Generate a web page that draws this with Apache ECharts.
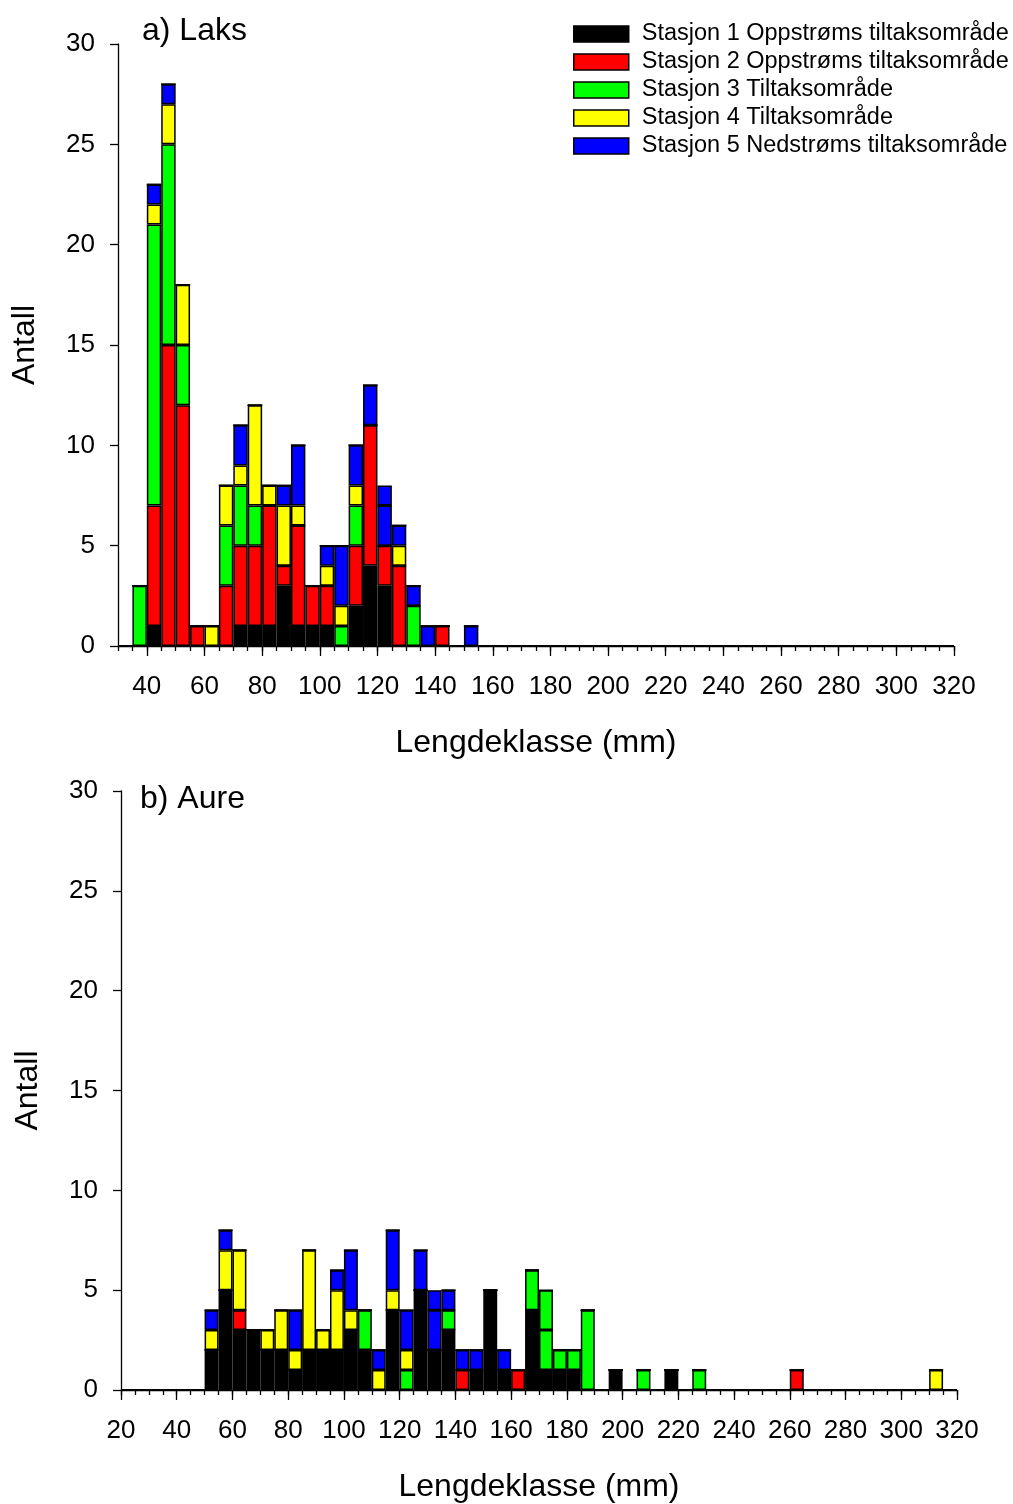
<!DOCTYPE html>
<html lang="no">
<head>
<meta charset="UTF-8">
<title>Lengdefordeling laks og aure</title>
<script src="https://cdn.jsdelivr.net/npm/echarts@6/dist/echarts.min.js"></script>
<style>
  html, body { margin: 0; padding: 0; background: #fff; }
  #main { width: 1013px; height: 1504px; }
</style>
</head>
<body>
<div id="main"></div>
<script type="text/javascript">
// stasjoner i forklaringen
var stasjoner = [
  'Stasjon 1 Oppstrøms tiltaksområde',
  'Stasjon 2 Oppstrøms tiltaksområde',
  'Stasjon 3 Tiltaksområde',
  'Stasjon 4 Tiltaksområde',
  'Stasjon 5 Nedstrøms tiltaksområde'
];
var farger = ['#000000', '#ff0000', '#00ff00', '#ffff00', '#0000ff'];

// a) Laks - 5 mm klasser, første klasse starter på 35 mm
var laksStart = 35;
var laksSt1 = [0, 1, 0, 0, 0, 0, 0, 1, 1, 1, 3, 1, 1, 1, 0, 2, 4, 3, 0, 0, 0, 0, 0, 0];
var laksSt2 = [0, 6, 15, 12, 1, 0, 3, 4, 4, 6, 1, 5, 2, 2, 0, 3, 7, 2, 4, 0, 0, 1, 0, 0];
var laksSt3 = [3, 14, 10, 3, 0, 0, 3, 3, 2, 0, 0, 0, 0, 0, 1, 2, 0, 0, 0, 2, 0, 0, 0, 0];
var laksSt4 = [0, 1, 2, 3, 0, 1, 2, 1, 5, 1, 3, 1, 0, 1, 1, 1, 0, 0, 1, 0, 0, 0, 0, 0];
var laksSt5 = [0, 1, 1, 0, 0, 0, 0, 2, 0, 0, 1, 3, 0, 1, 3, 2, 2, 2, 1, 1, 1, 0, 0, 1];
// ekstra felt med samme farge (eget felt i figuren)
var laksSt3b = [0, 0, 0, 0, 0, 0, 0, 0, 0, 0, 0, 0, 0, 0, 0, 0, 0, 0, 0, 0, 0, 0, 0, 0];
var laksSt5b = [0, 0, 0, 0, 0, 0, 0, 0, 0, 0, 0, 0, 0, 0, 0, 0, 0, 1, 0, 0, 0, 0, 0, 0];

// b) Aure - 5 mm klasser, første klasse starter på 50 mm
var aureStart = 50;
var aureSt1 = [2, 5, 3, 3, 2, 2, 1, 2, 2, 2,  3, 2, 0, 4, 0, 5, 2, 3, 0, 1,
               5, 1, 0, 4, 1, 1, 1, 0, 0, 1,  0, 0, 0, 1, 0, 0, 0, 0, 0, 0,
               0, 0, 0, 0, 0, 0, 0, 0, 0, 0,  0, 0, 0];
var aureSt2 = [0, 0, 1, 0, 0, 0, 0, 0, 0, 0,  0, 0, 0, 0, 0, 0, 0, 0, 1, 0,
               0, 0, 1, 0, 0, 0, 0, 0, 0, 0,  0, 0, 0, 0, 0, 0, 0, 0, 0, 0,
               0, 0, 1, 0, 0, 0, 0, 0, 0, 0,  0, 0, 0];
var aureSt3 = [0, 0, 0, 0, 0, 0, 0, 0, 0, 0,  0, 2, 0, 0, 1, 0, 0, 1, 0, 0,
               0, 0, 0, 2, 2, 1, 1, 4, 0, 0,  0, 1, 0, 0, 0, 1, 0, 0, 0, 0,
               0, 0, 0, 0, 0, 0, 0, 0, 0, 0,  0, 0, 0];
var aureSt4 = [1, 2, 3, 0, 1, 2, 1, 5, 1, 3,  1, 0, 1, 1, 1, 0, 0, 0, 0, 0,
               0, 0, 0, 0, 0, 0, 0, 0, 0, 0,  0, 0, 0, 0, 0, 0, 0, 0, 0, 0,
               0, 0, 0, 0, 0, 0, 0, 0, 0, 0,  0, 0, 1];
var aureSt5 = [1, 1, 0, 0, 0, 0, 2, 0, 0, 1,  3, 0, 1, 3, 2, 2, 2, 1, 1, 1,
               0, 1, 0, 0, 0, 0, 0, 0, 0, 0,  0, 0, 0, 0, 0, 0, 0, 0, 0, 0,
               0, 0, 0, 0, 0, 0, 0, 0, 0, 0,  0, 0, 0];
var aureSt3b = [0, 0, 0, 0, 0, 0, 0, 0, 0, 0,  0, 0, 0, 0, 0, 0, 0, 0, 0, 0,
                0, 0, 0, 0, 2, 0, 0, 0, 0, 0,  0, 0, 0, 0, 0, 0, 0, 0, 0, 0,
                0, 0, 0, 0, 0, 0, 0, 0, 0, 0,  0, 0, 0];
var aureSt5b = [0, 0, 0, 0, 0, 0, 0, 0, 0, 0,  0, 0, 0, 0, 0, 0, 1, 0, 0, 0,
                0, 0, 0, 0, 0, 0, 0, 0, 0, 0,  0, 0, 0, 0, 0, 0, 0, 0, 0, 0,
                0, 0, 0, 0, 0, 0, 0, 0, 0, 0,  0, 0, 0];

// akseetiketter
var laksXLabels = [40, 60, 80, 100, 120, 140, 160, 180, 200, 220, 240, 260, 280, 300, 320];
var aureXLabels = [20, 40, 60, 80, 100, 120, 140, 160, 180, 200, 220, 240, 260, 280, 300, 320];
var klasseBredde = 5;

var font = 'Liberation Sans, Arial, sans-serif';

// grid i piksler
var gridA = { left: 118, top: 44, width: 836, height: 602 };
var gridB = { left: 121, top: 791, width: 836, height: 601 };
var xRangeA = [30, 320];
var xRangeB = [20, 320];

function steps(from, to, step) {
    var arr = [];
    for (var v = from; v <= to; v += step) arr.push(v);
    return arr;
}

// klasser (kategorier) over hele aksen
function klasser(range) {
    return steps(range[0], range[1] - klasseBredde, klasseBredde).map(String);
}

// fyll ut dataserien slik at den dekker alle klassene på aksen
function fyllUt(range, start, values) {
    var n = (range[1] - range[0]) / klasseBredde;
    var off = (start - range[0]) / klasseBredde;
    var out = [];
    for (var i = 0; i < n; i++) {
        var v = values[i - off];
        out.push(v === undefined ? 0 : v);
    }
    return out;
}

function makeSeries(gridIdx, range, start, lists) {
    return lists.map(function (item) {
        return {
            name: item.name,
            type: 'bar',
            xAxisIndex: gridIdx * 3,
            yAxisIndex: gridIdx,
            stack: 'st' + gridIdx,
            barWidth: '100%',
            data: fyllUt(range, start, item.data),
            itemStyle: { color: item.color, borderColor: '#000', borderWidth: 1.5 }
        };
    });
}

function xAxes(gridIdx, range, labels) {
    return [{
        // kategoriakse for stolpene (skjult)
        gridIndex: gridIdx, type: 'category', data: klasser(range),
        boundaryGap: true,
        axisLine: { show: false }, axisTick: { show: false }, axisLabel: { show: false },
        splitLine: { show: false }
    }, {
        gridIndex: gridIdx, type: 'value', position: 'bottom', min: range[0], max: range[1],
        axisLine: { show: true, lineStyle: { color: '#000', width: 1.3 } },
        axisTick: { show: true, customValues: steps(range[0], range[1], 5), length: 5, lineStyle: { color: '#000', width: 1.3 } },
        axisLabel: { customValues: labels, color: '#000', fontSize: 26, fontFamily: font, margin: 28 },
        splitLine: { show: false },
        name: 'Lengdeklasse (mm)', nameLocation: 'middle', nameGap: 81,
        nameTextStyle: { fontSize: 32, color: '#000', fontFamily: font }
    }, {
        gridIndex: gridIdx, type: 'value', position: 'bottom', min: range[0], max: range[1],
        axisLine: { show: false },
        axisTick: { show: true, customValues: labels, length: 10, lineStyle: { color: '#000', width: 1.3 } },
        axisLabel: { show: false },
        splitLine: { show: false }
    }];
}

function yAxis(gridIdx) {
    return {
        gridIndex: gridIdx, type: 'value', min: 0, max: 30, interval: 5,
        axisLine: { show: true, lineStyle: { color: '#000', width: 1.3 } },
        axisTick: { show: true, length: 8, lineStyle: { color: '#000', width: 1.3 } },
        axisLabel: { color: '#000', fontSize: 26, fontFamily: font, margin: 23 },
        splitLine: { show: false },
        name: 'Antall', nameLocation: 'middle', nameGap: 77,
        nameTextStyle: { fontSize: 32, color: '#000', fontFamily: font }
    };
}

var laksLists = [
    { name: stasjoner[0], data: laksSt1, color: farger[0] },
    { name: stasjoner[1], data: laksSt2, color: farger[1] },
    { name: stasjoner[2], data: laksSt3, color: farger[2] },
    { name: stasjoner[3], data: laksSt4, color: farger[3] },
    { name: stasjoner[4], data: laksSt5, color: farger[4] },
    { name: 'ekstra3', data: laksSt3b, color: farger[2] },
    { name: 'ekstra5', data: laksSt5b, color: farger[4] }
];
var aureLists = [
    { name: stasjoner[0], data: aureSt1, color: farger[0] },
    { name: stasjoner[1], data: aureSt2, color: farger[1] },
    { name: stasjoner[2], data: aureSt3, color: farger[2] },
    { name: stasjoner[3], data: aureSt4, color: farger[3] },
    { name: stasjoner[4], data: aureSt5, color: farger[4] },
    { name: 'ekstra3', data: aureSt3b, color: farger[2] },
    { name: 'ekstra5', data: aureSt5b, color: farger[4] }
];

var option = {
    animation: false,
    backgroundColor: '#fff',
    title: [
        { text: 'a) Laks', left: 142, top: 15, padding: 0, textStyle: { fontSize: 32, fontWeight: 'normal', color: '#000', fontFamily: font } },
        { text: 'b) Aure', left: 140, top: 783, padding: 0, textStyle: { fontSize: 32, fontWeight: 'normal', color: '#000', fontFamily: font } }
    ],
    legend: {
        data: stasjoner,
        orient: 'vertical',
        left: 573, top: 22, padding: 0,
        itemWidth: 55, itemHeight: 16, itemGap: 4,
        icon: 'rect',
        itemStyle: { borderColor: '#000', borderWidth: 1.5 },
        textStyle: { fontSize: 23.5, lineHeight: 24, color: '#000', fontFamily: font, padding: [0, 0, 0, 8] }
    },
    grid: [
        { left: gridA.left, top: gridA.top, width: gridA.width, height: gridA.height },
        { left: gridB.left, top: gridB.top, width: gridB.width, height: gridB.height }
    ],
    xAxis: xAxes(0, xRangeA, laksXLabels).concat(xAxes(1, xRangeB, aureXLabels)),
    yAxis: [yAxis(0), yAxis(1)],
    series: makeSeries(0, xRangeA, laksStart, laksLists).concat(makeSeries(1, xRangeB, aureStart, aureLists))
};

var myChart = echarts.init(document.getElementById('main'));
myChart.setOption(option);
</script>
</body>
</html>
